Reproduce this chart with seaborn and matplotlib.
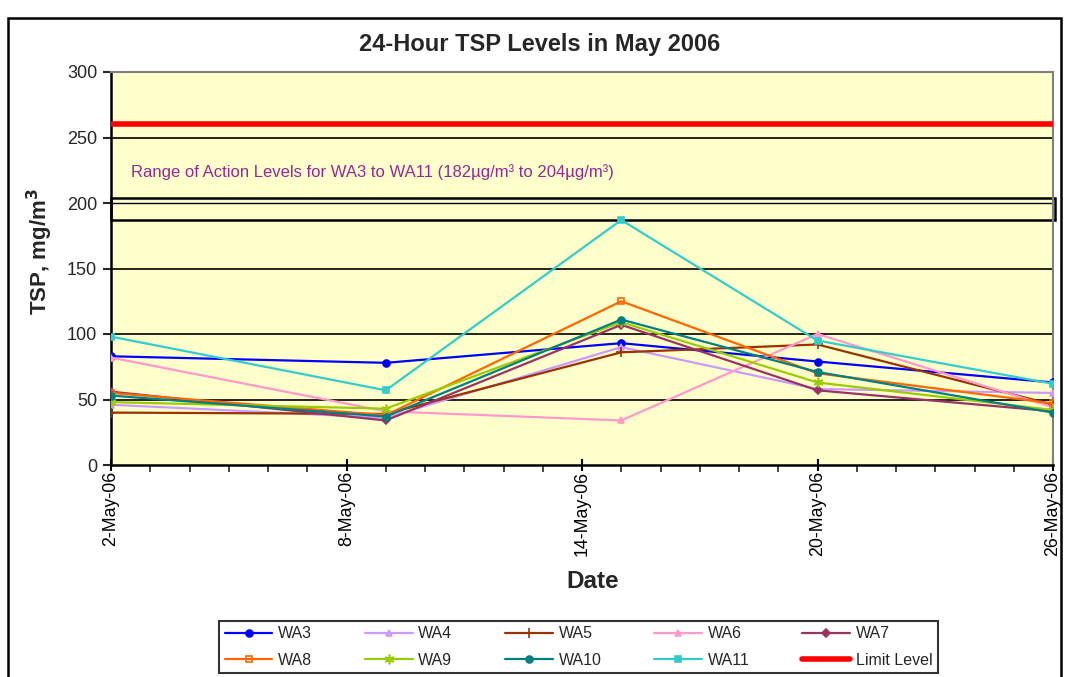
import datetime as dt
import matplotlib
matplotlib.use("Agg")
import matplotlib.pyplot as plt
import matplotlib.dates as mdates
from matplotlib.patches import Rectangle
from matplotlib.ticker import FuncFormatter
import seaborn as sns
import pandas as pd

# ---------------- data ----------------
dates = ["2006-05-02", "2006-05-09", "2006-05-15", "2006-05-20", "2006-05-26"]
WA3 = [83, 78, 93, 79, 63]
WA4 = [46, 36, 90, 58, 55]
WA5 = [40, 39, 86, 92, 46]
WA6 = [82, 41, 34, 100, 44]
WA7 = [56, 34, 107, 57, 41]
WA8 = [55, 38, 125, 70, 47]
WA9 = [48, 43, 109, 63, 42]
WA10 = [53, 37, 111, 71, 40]
WA11 = [98, 57, 187, 95, 62]
limit_level = 260
action_low, action_high = 187, 204
series_names = ["WA3", "WA4", "WA5", "WA6", "WA7", "WA8", "WA9", "WA10", "WA11"]
series_values = [WA3, WA4, WA5, WA6, WA7, WA8, WA9, WA10, WA11]
y_ticks = [0, 50, 100, 150, 200, 250, 300]

colors = {"WA3": "#0000FF", "WA4": "#CC99FF", "WA5": "#993300", "WA6": "#FF99CC",
          "WA7": "#993366", "WA8": "#FF6600", "WA9": "#99CC00", "WA10": "#008080",
          "WA11": "#33CCCC"}
markers = {"WA3": "o", "WA4": "^", "WA5": "+", "WA6": "^", "WA7": "D", "WA8": "s",
           "WA9": (6, 2, 0), "WA10": "o", "WA11": "s"}

sns.set_theme(style="white")
plt.rcParams["font.family"] = ["Liberation Sans", "DejaVu Sans"]

W, H = 1067, 677
fig = plt.figure(figsize=(W / 100, H / 100), dpi=100)
ax = fig.add_axes([111 / W, 1 - 465 / H, (1053 - 111) / W, (465 - 72) / H])
ax.set_facecolor("#FFFFCC")

x = pd.to_datetime(dates)
x0, x1 = dt.datetime(2006, 5, 2), dt.datetime(2006, 5, 26)

# gridlines
for yv in y_ticks[1:-1]:
    ax.axhline(yv, color="black", lw=1.0 if yv == 200 else 1.2, zorder=1)

# action level box
ax.add_patch(Rectangle((0, action_low), 1.0025, action_high - action_low,
                       transform=ax.get_yaxis_transform(), fill=False,
                       edgecolor="black", lw=1.8, clip_on=False, zorder=2))
ax.text(mdates.date2num(x0) + 0.5, 224,
        "Range of Action Levels for WA3 to WA11 (182\u00b5g/m\u00b3 to 204\u00b5g/m\u00b3)",
        color="#962896", fontsize=12, va="center", ha="left", zorder=3)

for name, vals in zip(series_names, series_values):
    mk = markers[name]
    kw = dict(markersize=5, markeredgewidth=1.2)
    if name == "WA8":
        kw["markerfacecolor"] = "none"
    if name in ("WA5", "WA9"):
        kw["markersize"] = 7
    if name == "WA7":
        kw["markersize"] = 4.5
    df = pd.DataFrame({"Date": x, "TSP": vals})
    sns.lineplot(data=df, x="Date", y="TSP", color=colors[name], marker=mk,
                 markeredgecolor=colors[name], lw=1.6, ax=ax, label=name,
                 zorder=4, **kw)

lim_df = pd.DataFrame({"Date": [x0, x1], "TSP": [limit_level, limit_level]})
sns.lineplot(data=lim_df, x="Date", y="TSP", color="#FF0000", lw=4, ax=ax,
             label="Limit Level", zorder=5)

ax.set_xlim(x0, x1)
ax.set_ylim(0, 300)
ax.set_yticks(y_ticks)
ax.xaxis.set_major_locator(mdates.DayLocator(bymonthday=[2, 8, 14, 20, 26]))
ax.xaxis.set_minor_locator(mdates.DayLocator())
ax.xaxis.set_major_formatter(FuncFormatter(
    lambda v, p: f"{mdates.num2date(v).day}-{mdates.num2date(v):%b-%y}"))
ax.tick_params(axis="x", which="major", direction="inout", length=9, width=1.5,
               labelsize=12.8, labelrotation=90, pad=0, colors="black")
ax.tick_params(axis="x", which="minor", direction="out", length=5, width=1.2)
ax.tick_params(axis="y", which="major", direction="out", length=6, width=1.5,
               labelsize=13, pad=4)
ax.tick_params(bottom=True, left=True, which="both")
for s in ("left", "bottom"):
    ax.spines[s].set_color("black")
    ax.spines[s].set_linewidth(1.8)
for s in ("top", "right"):
    ax.spines[s].set_color("#808080")
    ax.spines[s].set_linewidth(1.5)

ax.set_xlabel("")
ax.set_ylabel("")
fig.text(593 / W, 1 - 581 / H, "Date", fontsize=17.5, fontweight="bold",
         ha="center", va="center")
fig.text(40 / W, 1 - 252 / H, "TSP, mg/m$^\\mathbf{3}$", fontsize=16, fontweight="bold",
         rotation=90, ha="center", va="center")
fig.text(540 / W, 1 - 44 / H, "24-Hour TSP Levels in May 2006", fontsize=17,
         fontweight="bold", ha="center", va="center")

# legend (row-major order)
h, l = ax.get_legend_handles_labels()
order_rows = ["WA3", "WA4", "WA5", "WA6", "WA7", "WA8", "WA9", "WA10", "WA11", "Limit Level"]
col_major = []
for c in range(5):
    col_major += [order_rows[c], order_rows[c + 5]]
hd = dict(zip(l, h))
leg = fig.legend([hd[k] for k in col_major], col_major, ncol=5,
                 loc="center", bbox_to_anchor=((222 + 935) / 2 / W, 1 - 647 / H),
                 fontsize=11.5, frameon=True, fancybox=False, edgecolor="black",
                 handlelength=3.0, columnspacing=3.3, handletextpad=0.35,
                 borderpad=0.35, labelspacing=0.7, borderaxespad=0)
leg.get_frame().set_linewidth(1.5)
if ax.get_legend():
    ax.get_legend().remove()

# outer chart frame
fig.add_artist(Rectangle((8 / W, -0.05), (1061 - 8) / W, 1 - 18 / H + 0.05,
                         transform=fig.transFigure, fill=False, edgecolor="black", lw=1.8))

fig.savefig("out.png", dpi=100, facecolor="white")
